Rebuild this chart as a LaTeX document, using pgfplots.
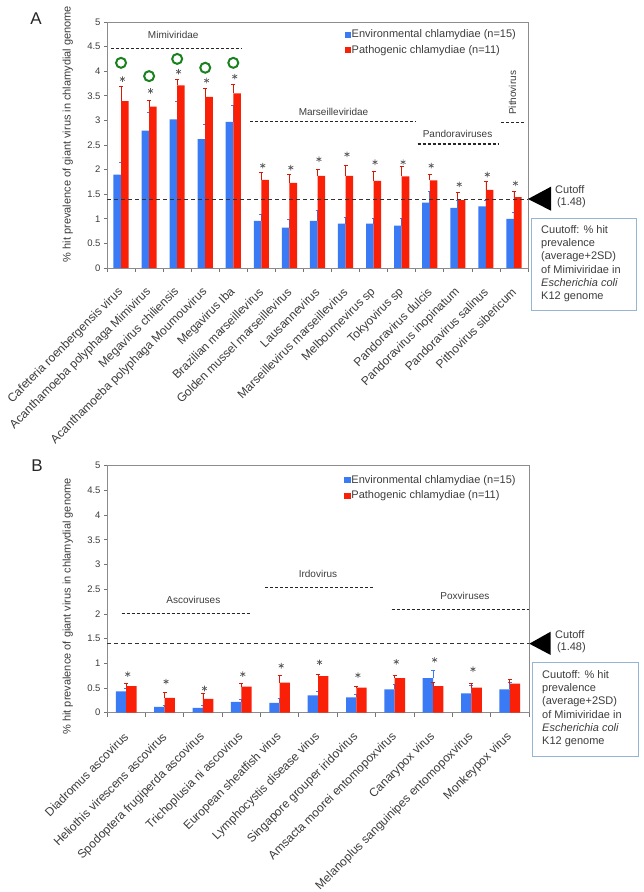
\documentclass[border=0pt]{standalone}
\usepackage{pgfplots}
\pgfplotsset{compat=1.18}
\usepackage{pgfplotstable}
\usepackage{fontspec}
\setmainfont{Liberation Sans}

\definecolor{envblue}{RGB}{58,122,245}
\definecolor{patred}{RGB}{250,32,8}
\definecolor{ringgreen}{RGB}{25,130,30}
\definecolor{boxblue}{RGB}{150,180,212}
\definecolor{txt}{RGB}{60,60,60}

% panel A: mean and (upper) error of each group
\pgfplotstableread{
x  env  enve pat  pate
0  1.90 0.24 3.39 0.31
1  2.79 0.38 3.28 0.13
2  3.02 0.36 3.71 0.13
3  2.62 0.29 3.48 0.17
4  2.97 0.34 3.55 0.19
5  0.96 0.13 1.79 0.15
6  0.82 0.17 1.73 0.18
7  0.96 0.22 1.87 0.14
8  0.90 0.12 1.87 0.22
9  0.90 0.11 1.77 0.19
10 0.86 0.14 1.86 0.20
11 1.33 0.23 1.78 0.12
12 1.22 0.15 1.38 0.15
13 1.25 0.13 1.59 0.16
14 1.00 0.14 1.44 0.12
}\dataA

% panel B
\pgfplotstableread{
x  env  enve pat  pate
0  0.43 0.06 0.54 0.06
1  0.12 0.02 0.30 0.12
2  0.10 0.05 0.28 0.11
3  0.22 0.04 0.53 0.06
4  0.20 0.08 0.61 0.15
5  0.35 0.08 0.74 0.04
6  0.31 0.07 0.51 0.03
7  0.47 0.11 0.70 0.06
8  0.70 0.16 0.54 0.08
9  0.39 0.16 0.51 0.08
10 0.47 0.15 0.59 0.09
}\dataB

\tikzset{grplabel/.style={font=\fontsize{10}{12}\selectfont, text=txt}}

\pgfplotsset{
  chl/.style={
    scale only axis,
    anchor=south west,
    ymin=0, ymax=5,
    ytick={0,0.5,...,5},
    /pgf/number format/assume math mode=true,
    tick pos=left,
    tick align=outside,
    major tick length=3pt,
    minor tick length=4pt,
    major x tick style={draw=none},
    minor x tick style={black!55, line width=0.7pt},
    y tick style={black!55, line width=0.7pt},
    axis line style={black!45, line width=0.8pt},
    yticklabel style={font=\fontsize{9.5}{11}\selectfont, text=txt},
    xticklabel shift=19pt,
    xticklabel style={rotate=45, anchor=east, inner sep=0pt,
      font=\fontsize{12}{14}\selectfont, text=txt},
    ylabel={\% hit prevalence of giant virus in chlamydial genome},
    ylabel style={font=\fontsize{11}{13}\selectfont, text=txt, anchor=center},
    legend style={draw=none, fill=none, anchor=north west,
      font=\fontsize{11}{13}\selectfont, text=txt, row sep=3pt,
      inner sep=0pt, nodes={inner sep=1.5pt}},
    legend cell align=left,
    clip=false,
  },
  envbar/.style={ybar, bar width=0.27, bar shift=-0.135, fill=envblue, draw=none,
    forget plot,
    error bars/.cd, y dir=plus, y explicit,
    error bar style={envblue, line width=0.8pt},
    error mark options={envblue, rotate=90, mark size=2pt, line width=0.8pt}},
  patbar/.style={ybar, bar width=0.27, bar shift=0.135, fill=patred, draw=none,
    forget plot,
    error bars/.cd, y dir=plus, y explicit,
    error bar style={patred!85!black, line width=0.8pt},
    error mark options={patred!85!black, rotate=90, mark size=2pt, line width=0.8pt}},
  star/.style={only marks, mark=asterisk, mark size=2.8pt, black!65,
    mark options={line width=0.7pt}, forget plot},
  grp/.style={densely dashed, black!85, line width=1.1pt, forget plot},
  cut/.style={dash pattern=on 4pt off 3pt, black!80, line width=0.7pt, forget plot},
}

\begin{document}
\begin{tikzpicture}
\useasboundingbox (0pt,0pt) rectangle (644pt,892pt);

% ---------------- panel A ----------------
\begin{axis}[chl,
  at={(107pt,624pt)}, width=421pt, height=246pt,
  xmin=-0.5, xmax=14.5,
  xtick={0,...,14},
  minor xtick={-0.5,0.5,...,14.5},
  xticklabels={{Cafeteria roenbergensis virus},{Acanthamoeba polyphaga Mimivirus},
    {Megavirus chiliensis},{Acanthamoeba polyphaga Moumouvirus},{Megavirus Iba},
    {Brazilian marseillevirus},{Golden mussel marseillevirus},{Lausannevirus},
    {Marseillevirus marseillevirus},{Melbournevirus sp},{Tokyovirus sp},
    {Pandoravirus dulcis},{Pandoravirus inopinatum},{Pandoravirus salinus},
    {Pithovirus sibericum}},
  ylabel style={at={(axis description cs:-0.093,0.545)}},
  legend style={at={(0.564,0.975)}},
]
\addplot[envbar] table[x=x, y=env, y error=enve]{\dataA};
\addplot[patbar] table[x=x, y=pat, y error=pate]{\dataA};
\addlegendimage{legend image code/.code={\fill[envblue] (0pt,-2.6pt) rectangle (5.2pt,2.6pt);}}
\addlegendentry{Environmental chlamydiae (n=15)}
\addlegendimage{legend image code/.code={\fill[patred] (0pt,-2.6pt) rectangle (5.2pt,2.6pt);}}
\addlegendentry{Pathogenic chlamydiae (n=11)}

\addplot[star] coordinates {
  (0.05,3.84) (1.05,3.60) (2.05,3.99) (3.05,3.81) (4.05,3.89)
  (5.05,2.08) (6.05,2.04) (7.05,2.21) (8.05,2.31) (9.05,2.15)
  (10.05,2.15) (11.05,2.08) (12.05,1.70) (13.05,1.90) (14.05,1.72)};
\addplot[only marks, mark=o, mark size=5pt, ringgreen, line width=2pt, forget plot]
  coordinates {(0,4.17) (1,3.90) (2,4.25) (3,4.07) (4,4.17)};

\addplot[cut] coordinates {(-0.5,1.39) (14.5,1.39)};
\addplot[grp] coordinates {(-0.36,4.47) (4.31,4.47)};
\addplot[grp] coordinates {(4.61,2.97) (10.52,2.97)};
\addplot[grp] coordinates {(10.57,2.52) (13.46,2.52)};
\addplot[grp] coordinates {(13.54,2.96) (14.39,2.96)};
\node[grplabel] at (axis cs:1.86,4.74) {Mimiviridae};
\node[grplabel] at (axis cs:7.57,3.18) {Marseilleviridae};
\node[grplabel] at (axis cs:11.99,2.72) {Pandoraviruses};
\node[grplabel, rotate=90] at (axis cs:13.95,3.56) {Pithovirus};
\end{axis}

% ---------------- panel B ----------------
\begin{axis}[chl,
  at={(107pt,179.3pt)}, width=422pt, height=247pt,
  xmin=-0.5, xmax=10.5,
  xtick={0,...,10},
  minor xtick={-0.5,0.5,...,10.5},
  xticklabels={{Diadromus ascovirus},{Heliothis virescens ascovirus},
    {Spodoptera frugiperda ascovirus},{Trichoplusia ni ascovirus},
    {European sheatfish virus},{Lymphocystis disease virus},
    {Singapore grouper iridovirus},{Amsacta moorei entomopoxvirus},
    {Canarypox virus},{Melanoplus sanguinipes entomopoxvirus},{Monkeypox virus}},
  ylabel style={at={(axis description cs:-0.093,0.43)}},
  legend style={at={(0.562,0.968)}},
]
\addplot[envbar] table[x=x, y=env, y error=enve]{\dataB};
\addplot[patbar] table[x=x, y=pat, y error=pate]{\dataB};
\addlegendimage{legend image code/.code={\fill[envblue] (0pt,-2.6pt) rectangle (5.2pt,2.6pt);}}
\addlegendentry{Environmental chlamydiae (n=15)}
\addlegendimage{legend image code/.code={\fill[patred] (0pt,-2.6pt) rectangle (5.2pt,2.6pt);}}
\addlegendentry{Pathogenic chlamydiae (n=11)}

\addplot[star] coordinates {
  (0.04,0.78) (1.04,0.63) (2.04,0.49) (3.04,0.78) (4.04,0.95)
  (5.04,1.02) (6.04,0.76) (7.04,1.03) (8.04,1.07) (9.04,0.88)};

\addplot[cut] coordinates {(-0.5,1.40) (10.5,1.40)};
\addplot[grp] coordinates {(-0.12,2.01) (3.25,2.01)};
\addplot[grp] coordinates {(3.62,2.53) (6.44,2.53)};
\addplot[grp] coordinates {(6.92,2.09) (10.5,2.09)};
\node[grplabel] at (axis cs:1.75,2.28) {Ascoviruses};
\node[grplabel] at (axis cs:5.0,2.80) {Irdovirus};
\node[grplabel] at (axis cs:8.83,2.37) {Poxviruses};
\end{axis}

% ---------------- annotations ----------------
\node[font=\fontsize{17}{20}\selectfont, text=black!85] at (36pt,873pt) {A};
\node[font=\fontsize{17}{20}\selectfont, text=black!85] at (37pt,426pt) {B};

% cutoff arrows and notes
\fill[black] (528pt,693pt) -- (551pt,705.3pt) -- (551pt,681.3pt) -- cycle;
\node[anchor=west, align=left, inner sep=0pt, font=\fontsize{11}{12}\selectfont, text=txt]
  at (555pt,695.5pt) {Cutoff\\\,(1.48)};
\draw[boxblue, line width=0.8pt] (531.7pt,582pt) rectangle (636.7pt,673.7pt);
\node[anchor=north west, align=left, inner sep=0pt, font=\fontsize{11}{13.3}\selectfont, text=txt]
  at (541pt,667pt) {Cuutoff: \% hit\\prevalence\\(average+2SD)\\of Mimiviridae in\\\textit{Escherichia coli}\\K12 genome};

\fill[black] (529.3pt,248.3pt) -- (550.7pt,260.3pt) -- (550.7pt,237pt) -- cycle;
\node[anchor=west, align=left, inner sep=0pt, font=\fontsize{11}{12}\selectfont, text=txt]
  at (555pt,250.5pt) {Cutoff\\\,(1.48)};
\draw[boxblue, line width=0.8pt] (532.7pt,136pt) rectangle (638pt,229.3pt);
\node[anchor=north west, align=left, inner sep=0pt, font=\fontsize{11}{13.3}\selectfont, text=txt]
  at (542pt,222pt) {Cuutoff: \% hit\\prevalence\\(average+2SD)\\of Mimiviridae in\\\textit{Escherichia coli}\\K12 genome};
\end{tikzpicture}
\end{document}
